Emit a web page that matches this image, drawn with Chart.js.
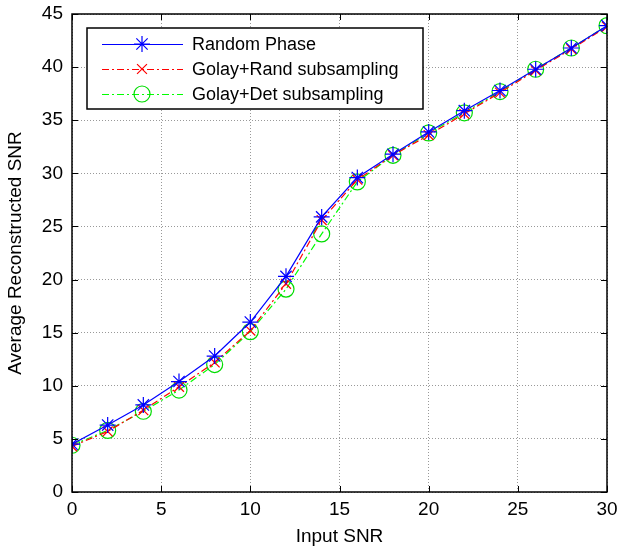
<!DOCTYPE html>
<html>
<head>
<meta charset="utf-8">
<script src="https://cdn.jsdelivr.net/npm/chart.js@4.4.1/dist/chart.umd.min.js"></script>
<style>
  html, body { margin: 0; padding: 0; background: #fff; }
  #wrap { width: 624px; height: 548px; position: relative; }
</style>
</head>
<body>
<div id="wrap"><canvas id="mycanvas" width="624" height="548"></canvas></div>
<script>
var inputSnr = [0, 2, 4, 6, 8, 10, 12, 14, 16, 18, 20, 22, 24, 26, 28, 30];
var randomPhase = [4.5, 6.3, 8.2, 10.4, 12.8, 16.0, 20.3, 25.9, 29.6, 31.8, 33.9, 35.9, 37.8, 39.8, 41.8, 43.9];
var golayRand = [4.3, 5.7, 7.7, 9.9, 12.2, 15.2, 19.6, 25.6, 29.4, 31.7, 33.6, 35.6, 37.6, 39.7, 41.7, 43.8];
var golayDet = [4.4, 5.8, 7.6, 9.6, 12.0, 15.1, 19.1, 24.3, 29.2, 31.7, 33.8, 35.7, 37.7, 39.8, 41.8, 43.9];
var seriesNames = ["Random Phase", "Golay+Rand subsampling", "Golay+Det subsampling"];
var xTicks = [0, 5, 10, 15, 20, 25, 30];
var yTicks = [0, 5, 10, 15, 20, 25, 30, 35, 40, 45];

var FONT = "'Liberation Sans', Arial, sans-serif";

function pts(ys) {
  var out = [];
  for (var i in inputSnr) out.push({x: inputSnr[i], y: ys[i]});
  return out;
}

// frame with inward ticks on all four sides, like matlab
var framePlugin = {
  id: 'frame',
  afterDatasetsDraw: function(chart) {
    var c = chart.ctx, a = chart.chartArea;
    var xs = chart.scales.x, ys = chart.scales.y;
    c.save();
    c.strokeStyle = '#000';
    c.lineWidth = 1;
    c.setLineDash([]);
    c.beginPath();
    for (var i in xTicks) {
      var px = Math.round(xs.getPixelForValue(xTicks[i])) + 0.5;
      c.moveTo(px, a.bottom); c.lineTo(px, a.bottom - 6);
      c.moveTo(px, a.top); c.lineTo(px, a.top + 6);
    }
    for (var j in yTicks) {
      var py = Math.round(ys.getPixelForValue(yTicks[j])) + 0.5;
      c.moveTo(a.left, py); c.lineTo(a.left + 6, py);
      c.moveTo(a.right, py); c.lineTo(a.right - 6, py);
    }
    c.stroke();
    c.lineWidth = 1.5;
    c.strokeRect(a.left, a.top, a.right - a.left, a.bottom - a.top);
    c.restore();
  }
};

// legend box inside the plot, top left
var boxLegend = {
  id: 'boxLegend',
  afterDraw: function(chart) {
    var c = chart.ctx;
    var bx = 87, by = 28, bw = 336, bh = 81;
    c.save();
    c.fillStyle = '#fff';
    c.fillRect(bx, by, bw, bh);
    c.strokeStyle = '#000';
    c.lineWidth = 1.5;
    c.strokeRect(bx, by, bw, bh);
    c.font = '18px ' + FONT;
    c.textBaseline = 'middle';
    for (var i = 0; i < chart.data.datasets.length; i++) {
      var ds = chart.data.datasets[i];
      var y = by + 16 + i * 25;
      c.strokeStyle = ds.borderColor;
      c.lineWidth = 1.2;
      c.setLineDash(ds.borderDash || []);
      c.beginPath();
      c.moveTo(102, y + 0.5);
      c.lineTo(183, y + 0.5);
      c.stroke();
      c.setLineDash([]);
      c.strokeStyle = ds.pointBorderColor;
      c.fillStyle = 'rgba(0,0,0,0)';
      c.lineWidth = 1.2;
      Chart.helpers.drawPoint(c, {
        pointStyle: ds.pointStyle,
        radius: ds.pointRadius,
        borderWidth: 1.2
      }, 142, y);
      c.fillStyle = '#000';
      c.fillText(ds.label, 192, y + 1);
    }
    c.restore();
  }
};

var chartdata = {
  datasets: [
    {
      label: seriesNames[0],
      data: pts(randomPhase),
      borderColor: "rgb(0, 0, 255)",
      backgroundColor: "rgba(0, 0, 0, 0)",
      borderWidth: 1.2,
      pointStyle: 'star',
      pointRadius: 8,
      pointBorderWidth: 1.2,
      pointBorderColor: "rgb(0, 0, 255)",
      order: 1
    },
    {
      label: seriesNames[1],
      data: pts(golayRand),
      borderColor: "rgb(255, 0, 0)",
      backgroundColor: "rgba(0, 0, 0, 0)",
      borderWidth: 1.2,
      borderDash: [7, 3, 2, 3],
      pointStyle: 'crossRot',
      pointRadius: 7,
      pointBorderWidth: 1.2,
      pointBorderColor: "rgb(255, 0, 0)",
      order: 2
    },
    {
      label: seriesNames[2],
      data: pts(golayDet),
      borderColor: "rgb(0, 255, 0)",
      backgroundColor: "rgba(0, 0, 0, 0)",
      borderWidth: 1.2,
      borderDash: [7, 3, 2, 3],
      pointStyle: 'circle',
      pointRadius: 8,
      pointBorderWidth: 1.2,
      pointBorderColor: "rgb(0, 220, 0)",
      order: 3
    }
  ]
};

var ctx = document.getElementById('mycanvas');
var LineGraph = new Chart(ctx, {
  type: 'line',
  data: chartdata,
  plugins: [framePlugin, boxLegend],
  options: {
    responsive: false,
    animation: false,
    layout: { padding: { left: 0, right: 17, top: 14, bottom: 0 } },
    plugins: {
      legend: { display: false },
      tooltip: { enabled: false }
    },
    elements: { line: { tension: 0 } },
    scales: {
      x: {
        type: 'linear',
        min: 0, max: 30,
        afterBuildTicks: function(s) { s.ticks = xTicks.map(function(v) { return {value: v}; }); },
        afterFit: function(s) { s.height = 56; s.paddingLeft = 0; s.paddingRight = 0; },
        ticks: { color: '#000', font: { family: FONT, size: 19 }, padding: 6, maxRotation: 0 },
        grid: { color: '#999', lineWidth: 1, drawTicks: false },
        border: { display: false, dash: [1, 2] },
        title: { display: true, text: 'Input SNR', color: '#000', font: { family: FONT, size: 19 }, padding: { top: 0, bottom: 0 } }
      },
      y: {
        type: 'linear',
        min: 0, max: 45,
        afterBuildTicks: function(s) { s.ticks = yTicks.map(function(v) { return {value: v}; }); },
        afterFit: function(s) { s.width = 72; s.paddingTop = 0; s.paddingBottom = 0; },
        ticks: { color: '#000', font: { family: FONT, size: 19 }, padding: 9 },
        grid: { color: '#999', lineWidth: 1, drawTicks: false },
        border: { display: false, dash: [1, 2] },
        title: { display: true, text: 'Average Reconstructed SNR', color: '#000', font: { family: FONT, size: 19 }, padding: { top: 4, bottom: 0 } }
      }
    }
  }
});
</script>
</body>
</html>
